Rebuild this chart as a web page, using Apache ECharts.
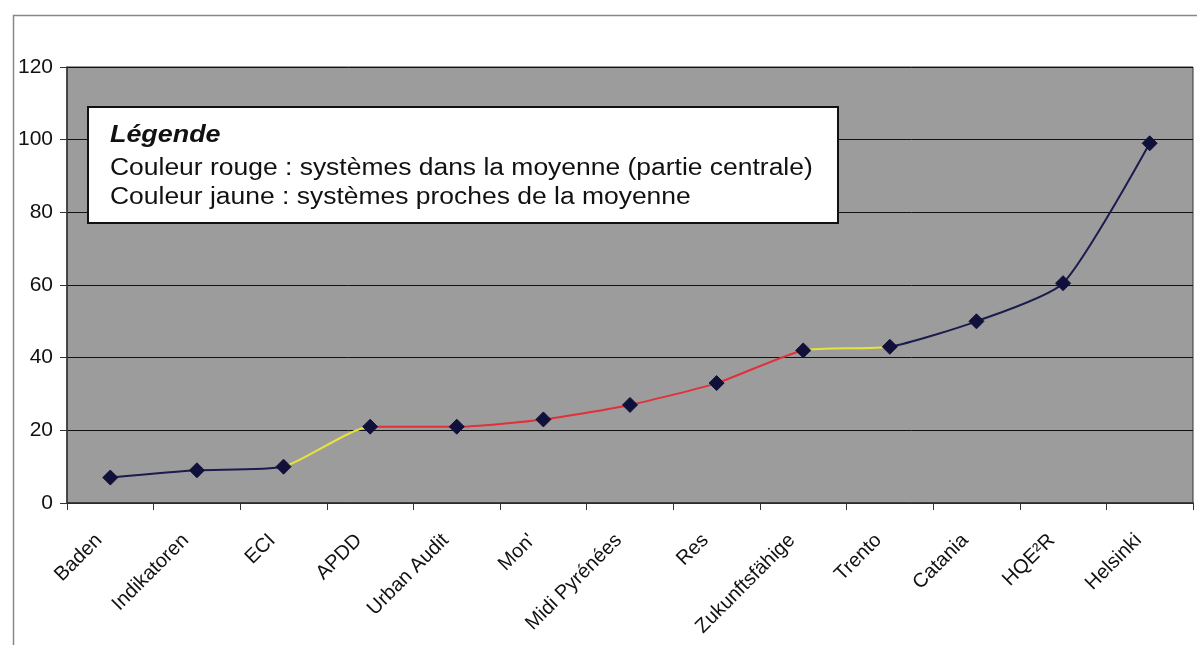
<!DOCTYPE html>
<html>
<head>
<meta charset="utf-8">
<script src="https://cdn.jsdelivr.net/npm/echarts@6/dist/echarts.min.js"></script>
<style>
  html, body { margin: 0; padding: 0; background: #fff; }
  #chart { width: 1197px; height: 645px; }
</style>
</head>
<body>
<div id="chart"></div>
<script>
// Systems, sorted by score
const categories = ['Baden', 'Indikatoren', 'ECI', 'APDD', 'Urban Audit', "Mon'", 'Midi Pyrénées',
  'Res', 'Zukunftsfähige', 'Trento', 'Catania', 'HQE²R', 'Helsinki'];
const scores = [7, 9, 10, 21, 21, 23, 27, 33, 42, 43, 50, 60.5, 99];

// Colour bands along the curve (by category index)
const bandEdges = [2, 3, 8, 9];
const bandColors = ['#1b1b4d', '#e8e23c', '#e0303a', '#e8e23c', '#1b1b4d'];

const yTicks = { min: 0, max: 120, step: 20 };

const legendTitle = 'Légende';
const legendLines = [
  'Couleur rouge : systèmes dans la moyenne (partie centrale)',
  'Couleur jaune : systèmes proches de la moyenne'
];

const pieces = [
  { lte: bandEdges[0], color: bandColors[0] },
  { gt: bandEdges[0], lte: bandEdges[1], color: bandColors[1] },
  { gt: bandEdges[1], lte: bandEdges[2], color: bandColors[2] },
  { gt: bandEdges[2], lte: bandEdges[3], color: bandColors[3] },
  { gt: bandEdges[3], color: bandColors[4] }
];

const chart = echarts.init(document.getElementById('chart'), null, { renderer: 'canvas' });
const font = '"Liberation Sans", Arial, sans-serif';

chart.setOption({
  animation: false,
  textStyle: { fontFamily: font },
  grid: {
    left: 67, right: 4, top: 67, bottom: 142,
    show: true, backgroundColor: '#9c9c9c', borderColor: '#333', borderWidth: 1
  },
  xAxis: {
    type: 'category',
    data: categories,
    boundaryGap: true,
    axisLine: { lineStyle: { color: '#333', width: 1.5 } },
    axisTick: { show: true, length: 7, lineStyle: { color: '#333' } },
    axisLabel: {
      rotate: 45, fontSize: 20, color: '#111', margin: 23, padding: [0, 16, 0, 0],
      fontFamily: font, interval: 0
    }
  },
  yAxis: {
    type: 'value',
    min: yTicks.min, max: yTicks.max, interval: yTicks.step,
    axisLine: { show: true, lineStyle: { color: '#333', width: 1.5 } },
    axisTick: { show: true, length: 7, lineStyle: { color: '#333' } },
    axisLabel: { fontSize: 21, color: '#111', margin: 14, fontFamily: font },
    splitLine: { show: true, lineStyle: { color: '#111', width: 1 } }
  },
  visualMap: {
    show: false,
    type: 'piecewise',
    seriesIndex: 0,
    dimension: 0,
    pieces: pieces
  },
  series: [
    {
      type: 'line',
      data: scores,
      smooth: 0.2,
      showSymbol: false,
      lineStyle: { width: 2 },
      z: 2
    },
    {
      type: 'line',
      data: scores,
      smooth: 0.2,
      lineStyle: { opacity: 0 },
      symbol: 'diamond',
      symbolSize: 15,
      itemStyle: { color: '#10103a', borderColor: '#10103a' },
      z: 3
    }
  ],
  graphic: [
    {
      type: 'rect',
      left: 11, top: 13,
      shape: { width: 1200, height: 700 },
      style: { fill: 'none', stroke: '#888', lineWidth: 1.5 },
      silent: true, z: -1
    },
    {
      type: 'group',
      left: 87, top: 106,
      z: 100,
      children: [
        {
          type: 'rect', z: 100,
          shape: { x: 0, y: 0, width: 750, height: 116 },
          style: { fill: '#fff', stroke: '#111', lineWidth: 2 }
        },
        {
          type: 'text', x: 22, y: 16, z: 101, scaleX: 1.12,
          style: { text: legendTitle, font: 'italic bold 24px ' + font, fill: '#111' }
        },
        {
          type: 'text', x: 22, y: 50, z: 101, scaleX: 1.15,
          style: { text: legendLines[0], font: '23px ' + font, fill: '#111' }
        },
        {
          type: 'text', x: 22, y: 79, z: 101, scaleX: 1.15,
          style: { text: legendLines[1], font: '23px ' + font, fill: '#111' }
        }
      ]
    }
  ]
});
</script>
</body>
</html>
